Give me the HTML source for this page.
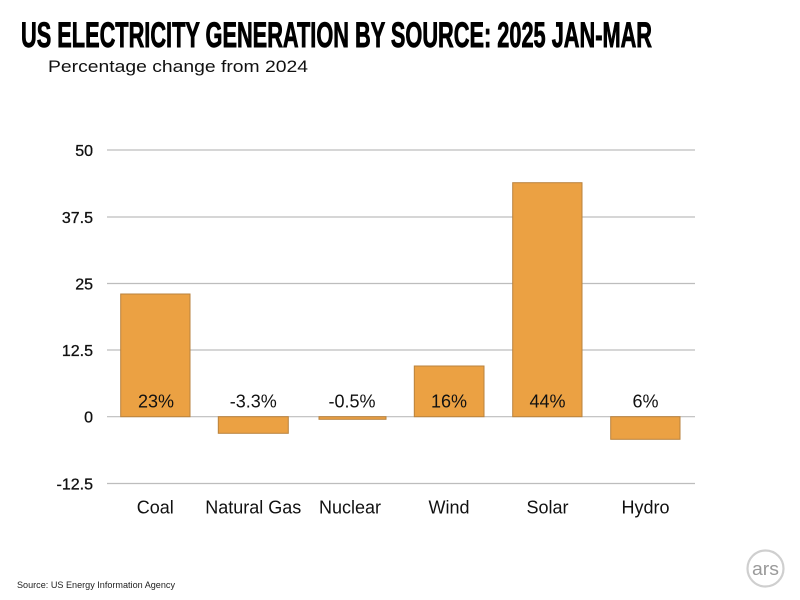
<!DOCTYPE html>
<html>
<head>
<meta charset="utf-8">
<style>
html,body{margin:0;padding:0;background:#fff;}
svg{display:block;}
</style>
</head>
<body>
<svg width="800" height="600" viewBox="0 0 800 600" xmlns="http://www.w3.org/2000/svg" font-family="Liberation Sans, sans-serif">
  <rect width="800" height="600" fill="#fff"/>
  <!-- Title -->
  <text x="21" y="47" font-size="35" font-weight="bold" fill="#000" stroke="#000" stroke-width="0.9" textLength="631" lengthAdjust="spacingAndGlyphs">US ELECTRICITY GENERATION BY SOURCE: 2025 JAN-MAR</text>
  <text x="48" y="72" font-size="17" fill="#111" textLength="260" lengthAdjust="spacingAndGlyphs">Percentage change from 2024</text>

  <!-- gridlines -->
  <g stroke="#bdbdbd" stroke-width="1.2">
    <line x1="107" y1="150" x2="695" y2="150"/>
    <line x1="107" y1="217" x2="695" y2="217"/>
    <line x1="107" y1="283.5" x2="695" y2="283.5"/>
    <line x1="107" y1="350" x2="695" y2="350"/>
    <line x1="107" y1="416.7" x2="695" y2="416.7"/>
    <line x1="107" y1="483.5" x2="695" y2="483.5"/>
  </g>

  <!-- y labels -->
  <g font-size="16" fill="#111" text-anchor="end" stroke="#111" stroke-width="0.3">
    <text x="93" y="156">50</text>
    <text x="93" y="223">37.5</text>
    <text x="93" y="289.5">25</text>
    <text x="93" y="356">12.5</text>
    <text x="93" y="422.5">0</text>
    <text x="93" y="489.5">-12.5</text>
  </g>

  <!-- bars -->
  <g fill="#eba143" stroke="#b9823c" stroke-width="1">
    <rect x="120.7" y="294" width="69.3" height="122.7"/>
    <rect x="218.3" y="416.7" width="70" height="16.6"/>
    <rect x="319" y="416.7" width="67" height="2.6"/>
    <rect x="414.3" y="366" width="69.7" height="50.7"/>
    <rect x="512.7" y="182.7" width="69.3" height="234"/>
    <rect x="610.7" y="416.7" width="69.3" height="22.6"/>
  </g>

  <!-- value labels -->
  <g font-size="18" fill="#111" text-anchor="middle">
    <text x="156" y="407.5">23%</text>
    <text x="253.3" y="407.5">-3.3%</text>
    <text x="352" y="407.5">-0.5%</text>
    <text x="449" y="407.5">16%</text>
    <text x="547.5" y="407.5">44%</text>
    <text x="645.5" y="407.5">6%</text>
  </g>

  <!-- x labels -->
  <g font-size="18" fill="#111" text-anchor="middle">
    <text x="155.3" y="513.3">Coal</text>
    <text x="253.3" y="513.3">Natural Gas</text>
    <text x="350" y="513.3">Nuclear</text>
    <text x="449" y="513.3">Wind</text>
    <text x="547.5" y="513.3">Solar</text>
    <text x="645.5" y="513.3">Hydro</text>
  </g>

  <!-- source -->
  <text x="17" y="588" font-size="9" fill="#222" textLength="158" lengthAdjust="spacingAndGlyphs">Source:  US Energy Information Agency</text>

  <!-- ars logo -->
  <circle cx="765.5" cy="568.5" r="18" fill="#fff" stroke="#cfcfcf" stroke-width="2.2"/>
  <text x="765.5" y="575" font-size="18" fill="#9a9a9a" text-anchor="middle" textLength="27" lengthAdjust="spacingAndGlyphs">ars</text>
</svg>
</body>
</html>
